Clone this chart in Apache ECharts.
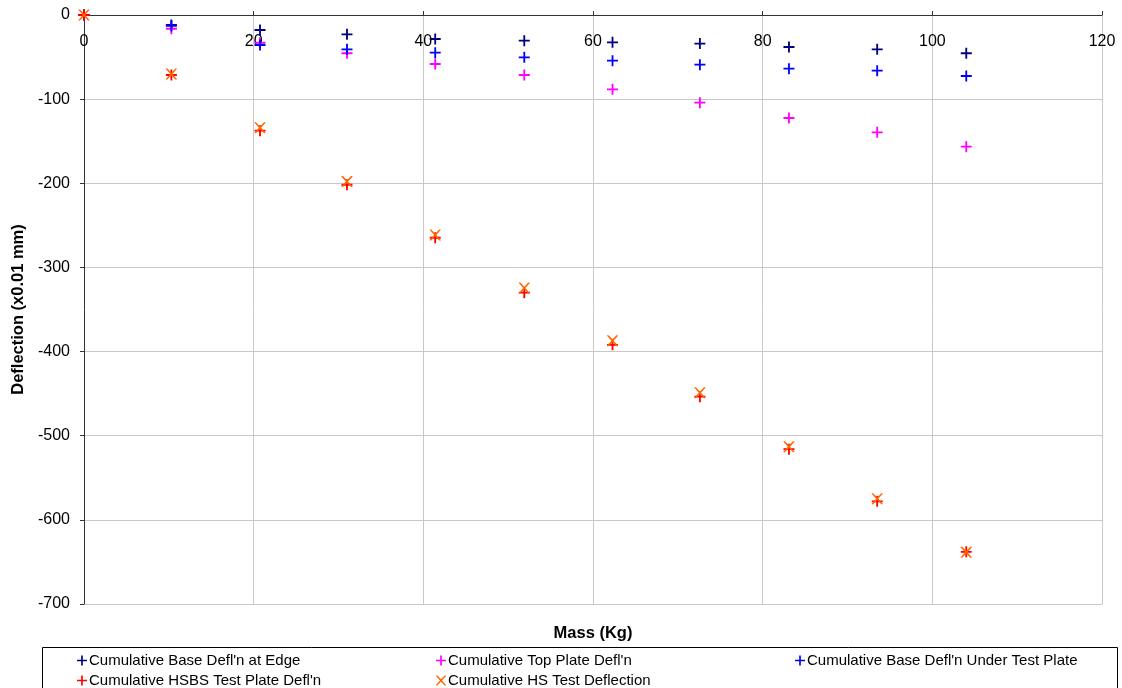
<!DOCTYPE html>
<html>
<head>
<meta charset="utf-8">
<script src="https://cdn.jsdelivr.net/npm/echarts@6/dist/echarts.min.js"></script>
<style>
html,body{margin:0;padding:0;background:#fff;}
#chart{width:1122px;height:688px;}
</style>
</head>
<body>
<div id="chart"></div>
<script>
// ---- data ----
var mass = [0, 10.3, 20.75, 31.0, 41.4, 51.9, 62.3, 72.6, 83.1, 93.5, 104.0];
var baseEdge = [0, -11.9, -17.8, -23, -28.5, -30.5, -32.5, -34, -38, -40.8, -45.5];
var topPlate = [0, -16.3, -33, -45.5, -58.2, -71.3, -88.3, -104.2, -122.4, -139.4, -156.5];
var baseUnder = [0, -13, -35.7, -40.8, -44.8, -50.3, -54.3, -59, -63.8, -66.2, -72.5];
var hsbs = [0, -71.3, -137.5, -201.7, -264.7, -330, -392, -453.6, -516, -578, -638];
var hs = [0, -70.1, -134, -198, -261.5, -324.5, -387, -449, -513, -575, -638.6];
var seriesNames = [
  "Cumulative Base Defl'n at Edge",
  "Cumulative Top Plate Defl'n",
  "Cumulative Base Defl'n Under Test Plate",
  "Cumulative HSBS Test Plate Defl'n",
  "Cumulative HS Test Deflection"
];
var xTicks = [0, 20, 40, 60, 80, 100, 120];
var yTicks = [0, -100, -200, -300, -400, -500, -600, -700];

// ---- styling ----
var colors = ['#000080', '#ff00ff', '#0000ff', '#ff0000', '#ff6600'];
var PLUS = 'path://M5,0L7,0L7,5L12,5L12,7L7,7L7,12L5,12L5,7L0,7L0,5L5,5Z';
var CROSS = 'path://M0,0L1.6,0L6,4.6L10.4,0L12,0L12,0.6L7.2,6L12,11.4L12,12L10.4,12L6,7.4L1.6,12L0,12L0,11.4L4.8,6L0,0.6Z';
var symbols = [PLUS, PLUS, PLUS, PLUS, CROSS];
var dataSets = [baseEdge, topPlate, baseUnder, hsbs, hs];
var FONT = 'Liberation Sans, Arial, sans-serif';

function pairs(ys) {
  return mass.map(function (m, i) { return [m, ys[i]]; });
}

var series = dataSets.map(function (ys, i) {
  return {
    name: seriesNames[i],
    type: 'scatter',
    data: pairs(ys),
    symbol: symbols[i],
    symbolSize: 11,
    clip: false,
    itemStyle: { color: colors[i], opacity: 1 },
    z: 2 + i
  };
});

var legendPos = [
  { left: 77, top: 653 },
  { left: 436, top: 653 },
  { left: 795, top: 653 },
  { left: 77, top: 673 },
  { left: 436, top: 673 }
];
var legends = seriesNames.map(function (n, i) {
  return {
    data: [{ name: n, icon: symbols[i], itemStyle: { opacity: 1 } }],
    left: legendPos[i].left,
    top: legendPos[i].top,
    padding: 0,
    itemWidth: 10,
    itemHeight: 10,
    itemGap: 0,
    selectedMode: false,
    textStyle: { fontFamily: FONT, fontSize: 15, color: '#000', padding: [0, 0, 0, -3] }
  };
});

var chart = echarts.init(document.getElementById('chart'), null, { renderer: 'canvas' });
chart.setOption({
  animation: false,
  backgroundColor: '#fff',
  grid: { left: 84, top: 15, right: 20, bottom: 84, containLabel: false },
  xAxis: {
    type: 'value',
    position: 'top',
    min: xTicks[0],
    max: xTicks[xTicks.length - 1],
    interval: xTicks[1] - xTicks[0],
    axisLine: { show: true, onZero: false, lineStyle: { color: '#333', width: 1 } },
    axisTick: { show: true, inside: false, length: 4, lineStyle: { color: '#333' } },
    axisLabel: { inside: true, margin: 19, color: '#000', fontSize: 16, fontFamily: FONT },
    splitLine: { show: true, lineStyle: { color: '#c8c8c8', width: 1 } }
  },
  yAxis: {
    type: 'value',
    min: yTicks[yTicks.length - 1],
    max: yTicks[0],
    interval: yTicks[0] - yTicks[1],
    name: 'Deflection (x0.01 mm)',
    nameLocation: 'middle',
    nameGap: 56,
    nameRotate: 90,
    nameTextStyle: { fontWeight: 'bold', fontSize: 16.5, color: '#000', fontFamily: FONT },
    axisLine: { show: true, onZero: false, lineStyle: { color: '#333', width: 1 } },
    axisTick: { show: true, length: 4, lineStyle: { color: '#333' } },
    axisLabel: { margin: 14, color: '#000', fontSize: 16, fontFamily: FONT },
    splitLine: { show: true, lineStyle: { color: '#c8c8c8', width: 1 } }
  },
  legend: legends,
  graphic: [
    {
      type: 'text',
      x: 593,
      y: 633,
      style: { text: 'Mass (Kg)', fontWeight: 'bold', fontSize: 16.5, fill: '#000', fontFamily: FONT, textAlign: 'center', textVerticalAlign: 'middle' }
    },
    {
      type: 'rect',
      shape: { x: 42.5, y: 647.5, width: 1075, height: 60 },
      style: { fill: 'none', stroke: '#000', lineWidth: 1 },
      silent: true
    }
  ],
  series: series
});
</script>
</body>
</html>
